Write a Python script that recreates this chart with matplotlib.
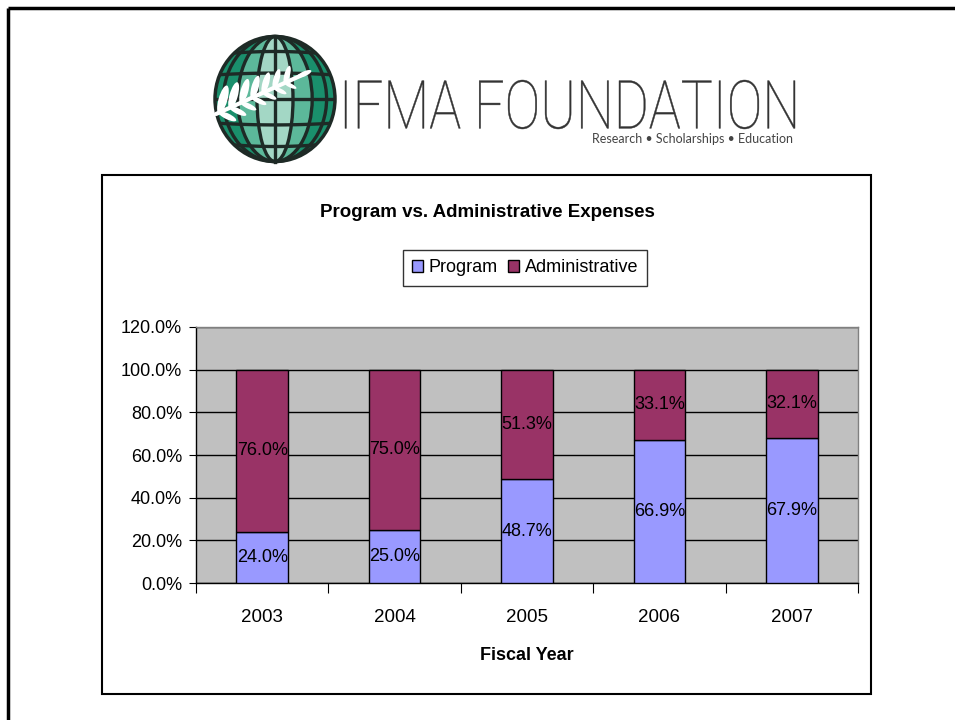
import numpy as np
import matplotlib
matplotlib.use("Agg")
import matplotlib.pyplot as plt
from matplotlib.patches import Ellipse, Rectangle, PathPatch
from matplotlib.textpath import TextPath
from matplotlib.font_manager import FontProperties
from matplotlib.transforms import Affine2D

plt.rcParams["font.family"] = ["Liberation Sans", "DejaVu Sans"]

# data
years = ["2003", "2004", "2005", "2006", "2007"]
program = [24.0, 25.0, 48.7, 66.9, 67.9]
administrative = [76.0, 75.0, 51.3, 33.1, 32.1]
y_ticks = [0, 20, 40, 60, 80, 100, 120]

prog_color = "#9999FF"
admin_color = "#993366"

W, H = 955, 720
fig = plt.figure(figsize=(W / 100, H / 100), dpi=100)

# background layer in pixel coordinates (y downwards)
bg = fig.add_axes([0, 0, 1, 1])
bg.set_xlim(0, W)
bg.set_ylim(H, 0)
bg.axis("off")

# slide border (top and left)
bg.plot([8, W], [8, 8], color="black", lw=2.5, solid_capstyle="butt")
bg.plot([8, 8], [8, H], color="black", lw=2.5, solid_capstyle="butt")

# chart box
bg.add_patch(Rectangle((102, 175), 769, 519, fill=False, edgecolor="black", lw=1.5))

# ---------------- logo ----------------
cx, cy, gw, gh = 275, 99, 120, 125
globe = Ellipse((cx, cy), gw, gh, facecolor="#1a8f6c", edgecolor="#1e2a26", lw=2.5, zorder=2)
bg.add_patch(globe)
bg.add_patch(Ellipse((cx, cy), gw * 0.62, gh, facecolor="#5cb89a", edgecolor="none", zorder=2))
bg.add_patch(Ellipse((cx, cy), gw * 0.30, gh, facecolor="#a3d7c5", edgecolor="none", zorder=2))

# meridians
for frac in [0.30, 0.62, 0.86]:
    bg.add_patch(Ellipse((cx, cy), gw * frac, gh, fill=False, edgecolor="#1e2a26", lw=2.4, zorder=3))
bg.plot([cx, cx], [cy - gh / 2, cy + gh / 2], color="#1e2a26", lw=2.4, zorder=3)

# parallels (slightly bowed), clipped to the globe
xs = np.linspace(cx - gw / 2, cx + gw / 2, 60)
for off in [-44, -24, 0, 24, 44]:
    bow = 0.08 * off * (1 - ((xs - cx) / (gw / 2)) ** 2)
    ln, = bg.plot(xs, cy + off + bow, color="#1e2a26", lw=2.4, zorder=3)
    ln.set_clip_path(globe)

# leaf branch
sx0, sy0, sx1, sy1 = 216, 114, 300, 76
bg.plot([sx0, sx1], [sy0, sy1], color="white", lw=3, zorder=4, solid_capstyle="round")
ang = np.degrees(np.arctan2(-(sy1 - sy0), sx1 - sx0))
for t in np.linspace(0.04, 0.82, 7):
    px = sx0 + t * (sx1 - sx0)
    py = sy0 + t * (sy1 - sy0)
    for side, size in [(1, 30 - 14 * t), (-1, 20 - 8 * t)]:
        a = np.radians(ang + side * 50)
        ex = px + 0.45 * size * np.cos(a)
        ey = py - 0.45 * size * np.sin(a)
        bg.add_patch(Ellipse((ex, ey), size, size * 0.3, angle=-(ang + side * 50),
                             facecolor="white", edgecolor="none", zorder=4))
bg.add_patch(Ellipse((sx1 + 4, sy1 - 2), 16, 5, angle=-ang, facecolor="white", edgecolor="none", zorder=4))

# logo lettering, fitted into its box (thin strokes like the original)
fp = FontProperties(family="Roboto", weight="light")
tp = TextPath((0, 0), "IFMA FOUNDATION", size=100, prop=fp)
ext = tp.get_extents()
tr = (Affine2D().translate(-ext.x0, -ext.y0)
      .scale(450 / ext.width, -49 / ext.height)
      .translate(345, 129))
bg.add_patch(PathPatch(tr.transform_path(tp), facecolor="#333333", edgecolor="#333333", lw=0.3))
bg.text(793, 139, "Research \u2022 Scholarships \u2022 Education", ha="right", va="center",
        fontsize=9, color="#444444", family=["Lato", "DejaVu Sans"])

# ---------------- chart ----------------
left, right, top, bottom = 196, 858, 327, 583
ax = fig.add_axes([left / W, 1 - bottom / H, (right - left) / W, (bottom - top) / H])
ax.set_facecolor("#C0C0C0")

x = np.arange(len(years))
bw = 0.39
ax.bar(x, program, bw, color=prog_color, edgecolor="black", lw=1, zorder=3, label="Program")
ax.bar(x, administrative, bw, bottom=program, color=admin_color, edgecolor="black", lw=1,
       zorder=3, label="Administrative")

for i in range(len(years)):
    ax.text(x[i], program[i] / 2, f"{program[i]:.1f}%", ha="center", va="center",
            fontsize=13, color="black", zorder=4)
    ax.text(x[i], program[i] + administrative[i] / 2, f"{administrative[i]:.1f}%",
            ha="center", va="center", fontsize=13, color="black", zorder=4)

ax.set_xlim(-0.5, len(years) - 0.5)
ax.set_ylim(0, 120)
ax.set_yticks(y_ticks)
ax.set_yticklabels([f"{v:.1f}%" for v in y_ticks], fontsize=13)
ax.yaxis.grid(True, color="black", lw=1)
ax.set_axisbelow(True)

ax.set_xticks(np.arange(-0.5, len(years), 1.0))
ax.set_xticklabels([])
ax.set_xticks(x, minor=True)
ax.set_xticklabels(years, minor=True, fontsize=13.5)
ax.tick_params(axis="x", which="major", length=7, color="black", direction="out")
ax.tick_params(axis="x", which="minor", length=0, pad=19)
ax.tick_params(axis="y", length=5, pad=5, color="black")
ax.set_xlabel("Fiscal Year", fontsize=13, fontweight="bold", labelpad=15)

ax.spines["left"].set_color("black")
ax.spines["bottom"].set_color("black")
ax.spines["top"].set_color("#808080")
ax.spines["right"].set_color("#808080")
for s in ax.spines.values():
    s.set_linewidth(1)

fig.text(487 / W, 1 - 212 / H, "Program vs. Administrative Expenses", ha="center", va="center",
         fontsize=13.5, fontweight="bold")

leg = fig.legend(loc="center", bbox_to_anchor=(525 / W, 1 - 268 / H), ncol=2, fontsize=13,
                 frameon=True, fancybox=False, edgecolor="black", handlelength=0.6,
                 handleheight=0.6, handletextpad=0.3, columnspacing=0.6, borderpad=0.5,
                 borderaxespad=0)
leg.get_frame().set_linewidth(1)

fig.savefig("out.png", dpi=100)
